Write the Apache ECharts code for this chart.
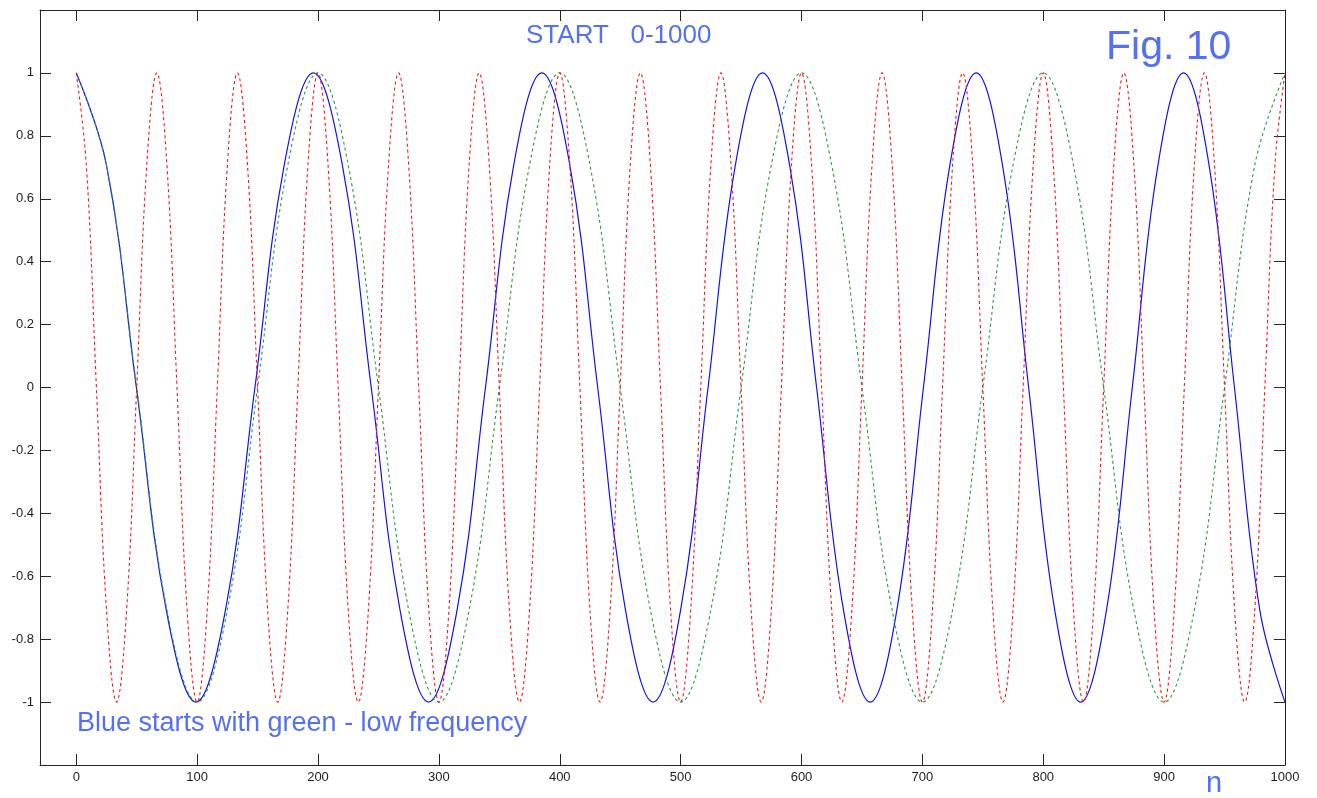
<!DOCTYPE html>
<html>
<head>
<meta charset="utf-8">
<title>START 0-1000</title>
<script src="https://cdn.jsdelivr.net/npm/echarts@6/dist/echarts.min.js"></script>
<style>
  html, body { margin: 0; padding: 0; background: #ffffff; }
  #chart { width: 1317px; height: 798px; }
</style>
</head>
<body>
<div id="chart"></div>
<script>
// Sample index n and amplitude for each trace (one point every eighth of a cycle)

// Green: low-frequency reference cosine
const greenN = [
  0, 25, 50, 75, 100, 125, 150, 175,
  200, 225, 250, 275, 300, 325, 350, 375,
  400, 425, 450, 475, 500, 525, 550, 575,
  600, 625, 650, 675, 700, 725, 750, 775,
  800, 825, 850, 875, 900, 925, 950, 975,
  1000
];
const greenY = [
  1, 0.707, 0, -0.707, -1, -0.707, 0, 0.707,
  1, 0.707, 0, -0.707, -1, -0.707, 0, 0.707,
  1, 0.707, 0, -0.707, -1, -0.707, 0, 0.707,
  1, 0.707, 0, -0.707, -1, -0.707, 0, 0.707,
  1, 0.707, 0, -0.707, -1, -0.707, 0, 0.707,
  1
];

// Red: high-frequency cosine
const redN = [
  0, 8.33, 16.67, 25, 33.33, 41.67, 50, 58.33, 66.67, 75, 83.33, 91.67,
  100, 108.33, 116.67, 125, 133.33, 141.67, 150, 158.33, 166.67, 175, 183.33, 191.67,
  200, 208.33, 216.67, 225, 233.33, 241.67, 250, 258.33, 266.67, 275, 283.33, 291.67,
  300, 308.33, 316.67, 325, 333.33, 341.67, 350, 358.33, 366.67, 375, 383.33, 391.67,
  400, 408.33, 416.67, 425, 433.33, 441.67, 450, 458.33, 466.67, 475, 483.33, 491.67,
  500, 508.33, 516.67, 525, 533.33, 541.67, 550, 558.33, 566.67, 575, 583.33, 591.67,
  600, 608.33, 616.67, 625, 633.33, 641.67, 650, 658.33, 666.67, 675, 683.33, 691.67,
  700, 708.33, 716.67, 725, 733.33, 741.67, 750, 758.33, 766.67, 775, 783.33, 791.67,
  800, 808.33, 816.67, 825, 833.33, 841.67, 850, 858.33, 866.67, 875, 883.33, 891.67,
  900, 908.33, 916.67, 925, 933.33, 941.67, 950, 958.33, 966.67, 975, 983.33, 991.67,
  1000
];
const redY = [
  1, 0.707, 0, -0.707, -1, -0.707, 0, 0.707, 1, 0.707, 0, -0.707,
  -1, -0.707, 0, 0.707, 1, 0.707, 0, -0.707, -1, -0.707, 0, 0.707,
  1, 0.707, 0, -0.707, -1, -0.707, 0, 0.707, 1, 0.707, 0, -0.707,
  -1, -0.707, 0, 0.707, 1, 0.707, 0, -0.707, -1, -0.707, 0, 0.707,
  1, 0.707, 0, -0.707, -1, -0.707, 0, 0.707, 1, 0.707, 0, -0.707,
  -1, -0.707, 0, 0.707, 1, 0.707, 0, -0.707, -1, -0.707, 0, 0.707,
  1, 0.707, 0, -0.707, -1, -0.707, 0, 0.707, 1, 0.707, 0, -0.707,
  -1, -0.707, 0, 0.707, 1, 0.707, 0, -0.707, -1, -0.707, 0, 0.707,
  1, 0.707, 0, -0.707, -1, -0.707, 0, 0.707, 1, 0.707, 0, -0.707,
  -1, -0.707, 0, 0.707, 1, 0.707, 0, -0.707, -1, -0.707, 0, 0.707,
  1
];

// Blue: rising-frequency sweep, starting in step with green
const blueN = [
  0, 24.94, 49.75, 74.44, 99.02, 123.47, 147.82, 172.04,
  196.15, 220.15, 244.04, 267.83, 291.5, 315.07, 338.54, 361.9,
  385.17, 408.33, 431.39, 454.35, 477.23, 500, 522.68, 545.27,
  567.77, 590.17, 612.49, 634.71, 656.85, 678.91, 700.88, 722.76,
  744.56, 766.28, 787.92, 809.48, 830.95, 852.35, 873.67, 894.92,
  916.08, 937.17, 958.19, 979.13, 1000
];
const blueY = [
  1, 0.707, 0, -0.707, -1, -0.707, 0, 0.707,
  1, 0.707, 0, -0.707, -1, -0.707, 0, 0.707,
  1, 0.707, 0, -0.707, -1, -0.707, 0, 0.707,
  1, 0.707, 0, -0.707, -1, -0.707, 0, 0.707,
  1, 0.707, 0, -0.707, -1, -0.707, 0, 0.707,
  1, 0.707, 0, -0.707, -1
];

// Axis tick positions and labels
const xTicks = [0, 100, 200, 300, 400, 500, 600, 700, 800, 900, 1000];
const yTickLabels = ['1', '0.8', '0.6', '0.4', '0.2', '0', '-0.2', '-0.4', '-0.6', '-0.8', '-1'];

const pairs = (xs, ys) => xs.map((x, i) => [x, ys[i]]);

const FONT = '"Liberation Sans", Arial, sans-serif';
const TEXT_BLUE = '#5670f4';
const FRAME = '#262626';
const LABEL = '#1e1e1e';

const chart = echarts.init(document.getElementById('chart'), null, { renderer: 'canvas' });

const frameLine = { show: true, onZero: false, lineStyle: { color: FRAME, width: 1 } };
const innerTick = (len) => ({ show: true, inside: true, length: len, lineStyle: { color: FRAME, width: 1 } });

const option = {
  animation: false,
  backgroundColor: '#ffffff',
  grid: { left: 40, right: 32, top: 10, bottom: 33, containLabel: false },
  xAxis: [
    {
      type: 'value', position: 'bottom', min: -30, max: 1000,
      axisLine: frameLine,
      axisTick: Object.assign(innerTick(11), { customValues: xTicks }),
      axisLabel: {
        customValues: xTicks, color: LABEL, fontSize: 13, fontFamily: FONT, margin: 6,
        showMinLabel: true, showMaxLabel: true,
        formatter: (v) => String(Math.round(v))
      },
      splitLine: { show: false }
    },
    {
      type: 'value', position: 'top', min: -30, max: 1000,
      axisLine: frameLine,
      axisTick: Object.assign(innerTick(11), { customValues: xTicks }),
      axisLabel: { show: false },
      splitLine: { show: false }
    }
  ],
  yAxis: [
    {
      type: 'value', position: 'left', min: -1.2, max: 1.2, interval: 0.2,
      axisLine: frameLine,
      axisTick: innerTick(11),
      axisLabel: {
        color: LABEL, fontSize: 13, fontFamily: FONT, margin: 6,
        formatter: (v) => {
          const r = Math.round(v * 10) / 10;
          const s = String(r === 0 ? 0 : r);
          return yTickLabels.indexOf(s) >= 0 ? s : '';
        }
      },
      splitLine: { show: false }
    },
    {
      type: 'value', position: 'right', min: -1.2, max: 1.2, interval: 0.2,
      axisLine: frameLine,
      axisTick: innerTick(11),
      axisLabel: { show: false },
      splitLine: { show: false }
    }
  ],
  series: [
    {
      name: 'blue', type: 'line', xAxisIndex: 0, yAxisIndex: 0,
      data: pairs(blueN, blueY), showSymbol: false, smooth: 0.4,
      lineStyle: { color: '#1010ff', width: 1.2, type: 'solid' }, z: 2
    },
    {
      name: 'green', type: 'line', xAxisIndex: 0, yAxisIndex: 0,
      data: pairs(greenN, greenY), showSymbol: false, smooth: 0.4,
      lineStyle: { color: '#2a9a3c', width: 1.1, type: [3, 3] }, z: 3
    },
    {
      name: 'red', type: 'line', xAxisIndex: 0, yAxisIndex: 0,
      data: pairs(redN, redY), showSymbol: false, smooth: 0.4,
      lineStyle: { color: '#ff1010', width: 1.1, type: [3, 3] }, z: 4
    }
  ],
  graphic: [
    {
      type: 'text', left: 526, top: 23, z: 10,
      style: { text: 'START   0-1000', fill: TEXT_BLUE, font: '26px ' + FONT }
    },
    {
      type: 'text', left: 1106, top: 27, z: 10,
      style: { text: 'Fig. 10', fill: TEXT_BLUE, font: '41px ' + FONT }
    },
    {
      type: 'text', left: 77, top: 710, z: 10,
      style: { text: 'Blue starts with green - low frequency', fill: TEXT_BLUE, font: '27px ' + FONT }
    },
    {
      type: 'text', left: 1206, top: 769, z: 10,
      style: { text: 'n', fill: TEXT_BLUE, font: '29px ' + FONT }
    }
  ]
};

chart.setOption(option);
</script>
</body>
</html>
